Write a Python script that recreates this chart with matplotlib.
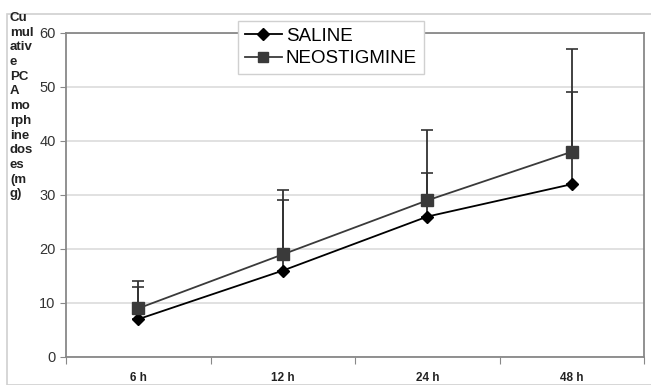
import matplotlib.pyplot as plt
from matplotlib.patches import Rectangle
from matplotlib.lines import Line2D

plt.rcParams['font.family'] = ['Liberation Sans', 'DejaVu Sans']

# ===== Data =====
timepoints = ['6 h', '12 h', '24 h', '48 h']
saline = [7, 16, 26, 32]
saline_err = [6, 13, 8, 17]          # upper error only
neostigmine = [9, 19, 29, 38]
neostigmine_err = [5, 12, 13, 19]    # upper error only
ylabel_lines = ['Cu', 'mul', 'ativ', 'e', 'PC', 'A', 'mo', 'rph', 'ine',
                'dos', 'es', '(m', 'g)']

fig = plt.figure(figsize=(6.51, 3.85), dpi=100)
fig.patches.append(Rectangle((7 / 651, 0), 1, 1 - 14 / 385, transform=fig.transFigure,
                             fill=False, edgecolor='#d0d0d0', linewidth=1.2))

ax = fig.add_axes([66 / 651, 28 / 385, 578 / 651, 324 / 385])

x = [i + 0.5 for i in range(len(timepoints))]

ax.errorbar(x, saline, yerr=[[0] * len(saline), saline_err], color='black',
            marker='D', markersize=6, linewidth=1.3, ecolor='#333333', elinewidth=1.3,
            capsize=4, capthick=1.2, zorder=3)
ax.errorbar(x, neostigmine, yerr=[[0] * len(neostigmine), neostigmine_err], color='#3a3a3a',
            marker='s', markersize=8, linewidth=1.3, ecolor='#333333', elinewidth=1.3,
            capsize=4, capthick=1.2, zorder=3)

ax.set_xlim(0, len(timepoints))
ax.set_ylim(0, 60)
ax.set_yticks(range(0, 61, 10))
ax.set_xticks(range(len(timepoints) + 1))
ax.set_xticklabels([])
ax.set_xticks(x, minor=True)
ax.set_xticklabels(timepoints, minor=True, fontsize=8.5, fontweight='bold', color='#222222')
ax.tick_params(axis='x', which='minor', length=0, pad=11)
ax.tick_params(axis='x', which='major', length=5, color='#888888', direction='out')
ax.tick_params(axis='y', length=4, color='#888888', labelsize=10.5, labelcolor='#333333')

ax.grid(axis='y', color='#dcdcdc', linewidth=1.2)
ax.set_axisbelow(True)
for s in ax.spines.values():
    s.set_color('#888888')
    s.set_linewidth(1.3)

fig.text(10 / 651, 1 - 12 / 385, '\n'.join(ylabel_lines), fontsize=9.5, fontweight='bold',
         va='top', ha='left', linespacing=1.3, color='#222222')

handles = [
    Line2D([], [], color='black', marker='D', markersize=6, linewidth=1.3),
    Line2D([], [], color='#3a3a3a', marker='s', markersize=7, linewidth=1.3),
]
leg = ax.legend(handles, ['SALINE', 'NEOSTIGMINE'], loc='upper left',
                bbox_to_anchor=(238 / 651, 1 - 21 / 385),
                bbox_transform=fig.transFigure, fontsize=13.5, frameon=True,
                fancybox=False, edgecolor='#d0d0d0', framealpha=1,
                handlelength=2.0, handletextpad=0.2, borderpad=0.35,
                labelspacing=0.3, borderaxespad=0)

fig.savefig('out.png', dpi=100)
